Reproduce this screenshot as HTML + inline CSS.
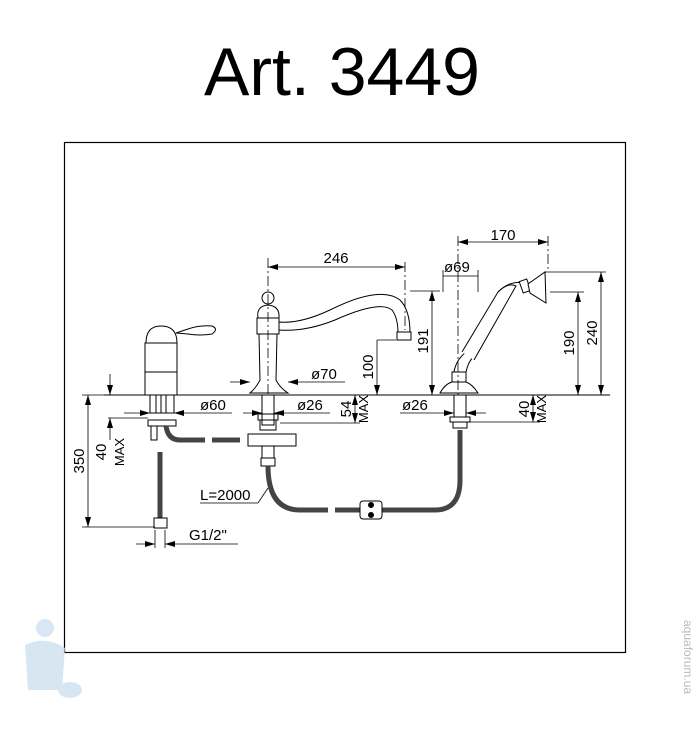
<!DOCTYPE html>
<html><head><meta charset="utf-8"><style>
html,body{margin:0;padding:0;background:#fff;}
svg{display:block;}
text{font-family:"Liberation Sans",sans-serif;fill:#000;}
</style></head><body>
<svg width="698" height="732" viewBox="0 0 698 732" xmlns="http://www.w3.org/2000/svg">
<defs>
<marker id="a" viewBox="0 0 10 6" refX="10" refY="3" markerWidth="10" markerHeight="6" orient="auto-start-reverse" markerUnits="userSpaceOnUse"><path d="M0,0 L10,3 L0,6z" fill="#000"/></marker>
</defs>
<text x="342" y="95" font-size="68" text-anchor="middle">Art. 3449</text>
<rect x="64.5" y="142.5" width="561" height="510" fill="none" stroke="#000" stroke-width="1.2"/>
<g stroke="#000" stroke-width="1" fill="none">
<line x1="104" y1="395" x2="610" y2="395"/>
<path d="M146,343 Q146,326 161,326 Q177,326 177,343 Z" fill="#fff"/>
<rect x="145" y="343" width="32" height="52" fill="#fff"/>
<line x1="145" y1="372" x2="177" y2="372"/>
<path d="M176,333 L188,329 Q200,325 212,326 Q219,329 212,334 Q200,336 188,334 Z" fill="#fff"/>
<rect x="150" y="395" width="24" height="18"/>
<line x1="156" y1="395" x2="156" y2="413"/><line x1="161" y1="395" x2="161" y2="413"/><line x1="166" y1="395" x2="166" y2="413"/>
<rect x="148" y="420" width="28" height="6"/>
<rect x="151" y="426" width="6" height="14"/>
<path d="M166,426 Q168,440 180,440 L205,440" stroke-width="5" stroke="#444"/>
<path d="M212,440 L240,440" stroke-width="5" stroke="#444"/>
<line x1="160" y1="452" x2="160" y2="518" stroke-width="5" stroke="#444"/>
<rect x="154" y="518" width="13" height="10" fill="#fff"/>
<circle cx="268" cy="298" r="6" fill="#fff"/>
<path d="M258,318 Q256,306 268,305 Q280,306 279,318 Z" fill="#fff"/>
<rect x="257" y="318" width="22" height="16" fill="#fff"/>
<path d="M259,334 L277,334 L276,380 Q280,388 288,393 L250,393 Q256,388 260,380 Z" fill="#fff"/>
<path d="M279,322 Q300,324 330,310 Q380,285 400,300 Q410,310 410,333"/>
<path d="M279,330 Q305,332 335,320 Q380,300 392,310 Q398,318 398,333"/>
<rect x="397" y="332" width="14" height="8" fill="#fff"/>
<rect x="262" y="395" width="12" height="30"/>
<rect x="258" y="414" width="20" height="6"/>
<rect x="260" y="420" width="16" height="10"/>
<rect x="248" y="434" width="48" height="12" fill="#fff"/>
<rect x="262" y="446" width="12" height="12" fill="#fff"/>
<rect x="261" y="458" width="14" height="8" fill="#fff"/>
<path d="M268,466 Q268,510 300,510 L328,510" stroke-width="5" stroke="#444"/>
<path d="M335,510 L360,510 M382,510 L435,510 Q460,510 460,480 L460,430" stroke-width="5" stroke="#444"/>
<rect x="360" y="501" width="22" height="18" rx="3" fill="#fff"/>
<circle cx="371" cy="505" r="2.5" fill="#000"/><circle cx="371" cy="515" r="2.5" fill="#000"/>
<path d="M440,393 Q445,384 452,382 L466,382 Q472,384 478,393 Z" fill="#fff"/>
<rect x="452" y="372" width="14" height="10" fill="#fff"/>
<path d="M454,372 Q456,360 466,352 L474,356 Q468,362 466,372"/>
<path d="M462,352 L498,292 Q508,282 516,286 L474,360" fill="#fff"/>
<path d="M498,292 Q510,280 525,283" />
<rect x="521" y="280" width="8" height="12" transform="rotate(-20 525 286)" fill="#fff"/>
<path d="M528,284 L545,272 L546,303 L530,293 Z" fill="#fff"/>
<rect x="454" y="395" width="12" height="22"/>
<rect x="450" y="417" width="20" height="5"/>
<rect x="453" y="422" width="14" height="6"/>
</g>
<g stroke="#000" stroke-width="0.8" fill="none">
<line x1="268" y1="258" x2="268" y2="395" stroke-dasharray="10,3,2,3"/>
<line x1="405" y1="262" x2="405" y2="330" stroke-dasharray="10,3,2,3"/>
<line x1="268" y1="267" x2="405" y2="267" marker-start="url(#a)" marker-end="url(#a)"/>
<line x1="458" y1="236" x2="458" y2="395" stroke-dasharray="10,3,2,3"/>
<line x1="548" y1="236" x2="548" y2="272" stroke-dasharray="10,3,2,3"/>
<line x1="458" y1="242" x2="548" y2="242" marker-start="url(#a)" marker-end="url(#a)"/>
<line x1="443" y1="270" x2="443" y2="292"/><line x1="478" y1="270" x2="478" y2="292"/>
<line x1="443" y1="276" x2="478" y2="276"/>
<line x1="410" y1="291" x2="440" y2="291"/>
<line x1="432" y1="291" x2="432" y2="395" marker-start="url(#a)" marker-end="url(#a)"/>
<line x1="377" y1="340" x2="396" y2="340"/>
<line x1="377" y1="340" x2="377" y2="395" marker-end="url(#a)"/>
<line x1="545" y1="272" x2="606" y2="272"/>
<line x1="550" y1="292" x2="584" y2="292"/>
<line x1="578" y1="292" x2="578" y2="395" marker-start="url(#a)" marker-end="url(#a)"/>
<line x1="601" y1="272" x2="601" y2="395" marker-start="url(#a)" marker-end="url(#a)"/>
<line x1="230" y1="382" x2="250" y2="382" marker-end="url(#a)"/>
<line x1="288" y1="382" x2="345" y2="382" marker-start="url(#a)"/>
<line x1="124" y1="413" x2="150" y2="413" marker-end="url(#a)"/>
<line x1="174" y1="413" x2="232" y2="413" marker-start="url(#a)"/>
<line x1="243" y1="413" x2="262" y2="413" marker-end="url(#a)"/>
<line x1="274" y1="413" x2="330" y2="413" marker-start="url(#a)"/>
<line x1="400" y1="413" x2="454" y2="413" marker-end="url(#a)"/>
<line x1="466" y1="413" x2="486" y2="413" marker-start="url(#a)"/>
<line x1="280" y1="423" x2="360" y2="423"/>
<line x1="355" y1="395" x2="355" y2="423" marker-start="url(#a)" marker-end="url(#a)"/>
<line x1="470" y1="422" x2="540" y2="422"/>
<line x1="533" y1="395" x2="533" y2="422" marker-start="url(#a)" marker-end="url(#a)"/>
<line x1="82" y1="395" x2="105" y2="395"/>
<line x1="82" y1="527" x2="155" y2="527"/>
<line x1="88" y1="395" x2="88" y2="527" marker-start="url(#a)" marker-end="url(#a)"/>
<line x1="108" y1="418" x2="148" y2="418"/>
<line x1="110" y1="374" x2="110" y2="395" marker-end="url(#a)"/>
<line x1="110" y1="440" x2="110" y2="418" marker-end="url(#a)"/>
<line x1="155" y1="530" x2="155" y2="548"/><line x1="165" y1="530" x2="165" y2="548"/>
<line x1="136" y1="544" x2="155" y2="544" marker-end="url(#a)"/>
<line x1="165" y1="544" x2="238" y2="544" marker-start="url(#a)"/>
<polyline points="200,503 258,503 268,488"/>
</g>
<g font-size="15">
<text x="336" y="263" text-anchor="middle">246</text>
<text x="503" y="240" text-anchor="middle">170</text>
<text x="444" y="272">ø69</text>
<text x="311" y="379">ø70</text>
<text x="200" y="410">ø60</text>
<text x="297" y="410">ø26</text>
<text x="402" y="410">ø26</text>
<text x="200" y="500">L=2000</text>
<text x="189" y="540">G1/2"</text>
<text transform="translate(428,341) rotate(-90)" text-anchor="middle">191</text>
<text transform="translate(373,367) rotate(-90)" text-anchor="middle">100</text>
<text transform="translate(574,343) rotate(-90)" text-anchor="middle">190</text>
<text transform="translate(597,333) rotate(-90)" text-anchor="middle">240</text>
<text transform="translate(84,461) rotate(-90)" text-anchor="middle">350</text>
<text transform="translate(106,452) rotate(-90)" text-anchor="middle">40</text>
<text transform="translate(351,409) rotate(-90)" text-anchor="middle">54</text>
<text transform="translate(529,409) rotate(-90)" text-anchor="middle">40</text>
</g>
<g font-size="13">
<text transform="translate(124,452) rotate(-90)" text-anchor="middle">MAX</text>
<text transform="translate(368,409) rotate(-90)" text-anchor="middle">MAX</text>
<text transform="translate(546,409) rotate(-90)" text-anchor="middle">MAX</text>
</g>
<g fill="#cfe0f0" opacity="0.8">
<circle cx="45" cy="628" r="9"/>
<path d="M25,645 Q45,635 65,648 L62,690 L28,690 Z"/>
<ellipse cx="70" cy="690" rx="12" ry="8"/>
</g>
<text transform="translate(684,620) rotate(90)" font-size="12" style="fill:#bbb">aquaforum.ua</text>
</svg>
</body></html>
